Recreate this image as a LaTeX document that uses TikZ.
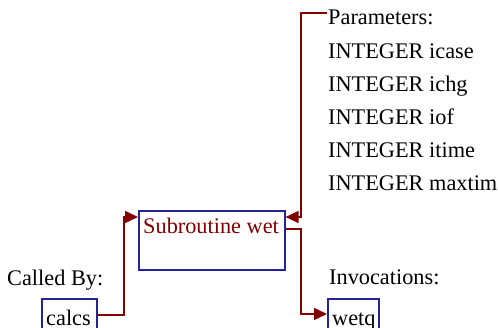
\documentclass[tikz,border=0pt]{standalone}
\usepackage{fontspec}
\setmainfont{Liberation Serif}
\usetikzlibrary{arrows.meta}
\definecolor{boxblue}{RGB}{36,36,150}
\definecolor{linkred}{RGB}{130,0,0}
\begin{document}
\begin{tikzpicture}[x=1pt,y=-1pt,
  lbl/.style={anchor=base west,inner sep=0pt,font=\fontsize{22.3}{24}\selectfont},
  boxnode/.style={draw=boxblue,line width=1.6pt,anchor=north west,inner sep=0pt},
  link/.style={draw=linkred,line width=1.6pt},
  arr/.style={link,-{Triangle[length=13pt,width=12pt]}}]
\useasboundingbox (0,0) rectangle (498,328);
\begin{scope}
\clip (0,0) rectangle (498,328);
% boxes
\node[boxnode,minimum width=146pt,minimum height=59pt] (main) at (138,210) {};
\node[boxnode,minimum width=55pt,minimum height=45pt] (calcs) at (41,298) {};
\node[boxnode,minimum width=51pt,minimum height=45pt] (wetq) at (327,298) {};
% texts
\node[lbl,text=linkred] (maintext) at (143,234) {Subroutine wet};
\node[lbl] (calcstext) at (46,325.5) {calcs};
\node[lbl] (wetqtext) at (332,325.5) {wetq};
\node[lbl] (calledby) at (7,286) {Called By:};
\node[lbl] (invoc) at (329,285) {Invocations:};
\node[lbl] (params) at (328,25) {Parameters:};
\node[lbl] (p1) at (328,59) {INTEGER icase};
\node[lbl] (p2) at (328,92) {INTEGER ichg};
\node[lbl] (p3) at (328,125) {INTEGER iof};
\node[lbl] (p4) at (328,158) {INTEGER itime};
\node[lbl] (p5) at (328,191) {INTEGER maxtim};
\coordinate (pin) at (327,13);
% connectors
\draw[arr] (calcs.north east |- 0,315) -| (124,217) -- (main.west |- 0,217);
\draw[arr] (pin) -| (301,217) -- (main.east |- 0,217);
\draw[arr] (main.east |- 0,229) -| (301,314) -- (wetq.west |- 0,314);
\end{scope}
\end{tikzpicture}
\end{document}
